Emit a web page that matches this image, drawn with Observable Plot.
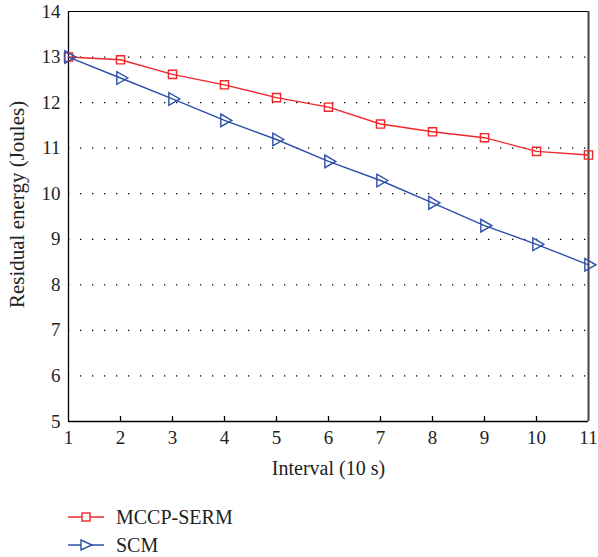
<!DOCTYPE html>
<html>
<head>
<meta charset="utf-8">
<script src="https://cdn.jsdelivr.net/npm/d3@7"></script>
<script src="https://cdn.jsdelivr.net/npm/@observablehq/plot@0.6"></script>
<style>
  html, body { margin: 0; padding: 0; background: #fff; }
  body { width: 598px; font-family: "Liberation Serif", "DejaVu Serif", serif; }
  #legend { margin-left: 68px; margin-top: 13px; font-size: 20px; color: #222; }
  .row { display: flex; align-items: center; height: 28px; }
  .row svg { margin-right: 11px; }
  #chart svg [aria-label="x-axis tick label"],
  #chart svg [aria-label="y-axis tick label"] { font-size: 19px; }
</style>
</head>
<body>
<div id="chart"></div>
<div id="legend"></div>
<script>
const intervals = [1, 2, 3, 4, 5, 6, 7, 8, 9, 10, 11];
const mccpSerm = [13.0, 12.94, 12.62, 12.39, 12.11, 11.90, 11.53, 11.36, 11.23, 10.93, 10.85];
const scm      = [13.0, 12.54, 12.08, 11.61, 11.19, 10.71, 10.29, 9.80, 9.30, 8.89, 8.44];
const seriesNames = ["MCCP-SERM", "SCM"];
const colors = ["#f0262b", "#2d4faa"];
const xTicks = [1, 2, 3, 4, 5, 6, 7, 8, 9, 10, 11];
const yTicks = [5, 6, 7, 8, 9, 10, 11, 12, 13, 14];
const gridTicks = [6, 7, 8, 9, 10, 11, 12, 13];
const xLabel = "Interval (10 s)";
const yLabel = "Residual energy (Joules)";

const red = intervals.map((x, i) => ({x, y: mccpSerm[i]}));
const blue = intervals.map((x, i) => ({x, y: scm[i]}));

const chart = Plot.plot({
  width: 598,
  height: 490,
  marginTop: 11,
  marginLeft: 68,
  marginRight: 10,
  marginBottom: 69,
  style: {fontFamily: "Liberation Serif, DejaVu Serif, serif", fontSize: "19px", color: "#222", background: "#fff"},
  x: {domain: [1, 11], ticks: xTicks},
  y: {domain: [5, 14], ticks: yTicks},
  marks: [
    Plot.ruleY(gridTicks, {stroke: "#000", strokeWidth: 1.2, strokeDasharray: "1.3,10.7"}),
    Plot.ruleY([14], {stroke: "#000", strokeWidth: 1}),
    Plot.ruleX([11], {stroke: "#444", strokeWidth: 2}),
    Plot.ruleX([1], {stroke: "#000", strokeWidth: 1.3}),
    Plot.ruleY([5], {stroke: "#000", strokeWidth: 1.3}),
    Plot.tickX(xTicks.slice(1, -1), {x: d => d, insetTop: 405, stroke: "#000", strokeWidth: 1.3}),
    Plot.axisX(xTicks, {tickSize: 0, tickPadding: 9, label: null, fontSize: 19}),
    Plot.axisY(yTicks, {tickSize: 0, tickPadding: 8, label: null, fontSize: 19}),
    Plot.text([xLabel], {text: d => d, frameAnchor: "bottom", dy: 47, lineAnchor: "middle", fontSize: 20, fill: "#222"}),
    Plot.text([yLabel], {text: d => d, frameAnchor: "left", textAnchor: "middle", rotate: -90, dx: -51, dy: -12, lineAnchor: "middle", fontSize: 21, fill: "#222"}),
    Plot.line(red, {x: "x", y: "y", stroke: colors[0], strokeWidth: 1.4}),
    Plot.dot(red, {x: "x", y: "y", symbol: "square", r: 4.6, stroke: colors[0], strokeWidth: 1.4, fill: "none"}),
    Plot.line(blue, {x: "x", y: "y", stroke: colors[1], strokeWidth: 1.4}),
    Plot.dot(blue, {x: "x", y: "y", symbol: "triangle", r: 4.7, rotate: 90, stroke: colors[1], strokeWidth: 1.4, fill: "none"})
  ]
});
document.getElementById("chart").appendChild(chart);

// Legend
const legend = d3.select("#legend");
seriesNames.forEach((name, i) => {
  const row = legend.append("div").attr("class", "row");
  const s = row.append("svg").attr("width", 37).attr("height", 16);
  s.append("line").attr("x1", 0).attr("x2", 36).attr("y1", 8).attr("y2", 8)
    .attr("stroke", colors[i]).attr("stroke-width", 1.4);
  if (i === 0) {
    s.append("rect").attr("x", 14).attr("y", 4).attr("width", 8).attr("height", 8)
      .attr("fill", "#fff").attr("stroke", colors[i]).attr("stroke-width", 1.4);
  } else {
    s.append("path").attr("d", "M13,3 L24,8 L13,13 Z")
      .attr("fill", "#fff").attr("stroke", colors[i]).attr("stroke-width", 1.4);
  }
  row.append("span").text(name);
});
</script>
</body>
</html>
